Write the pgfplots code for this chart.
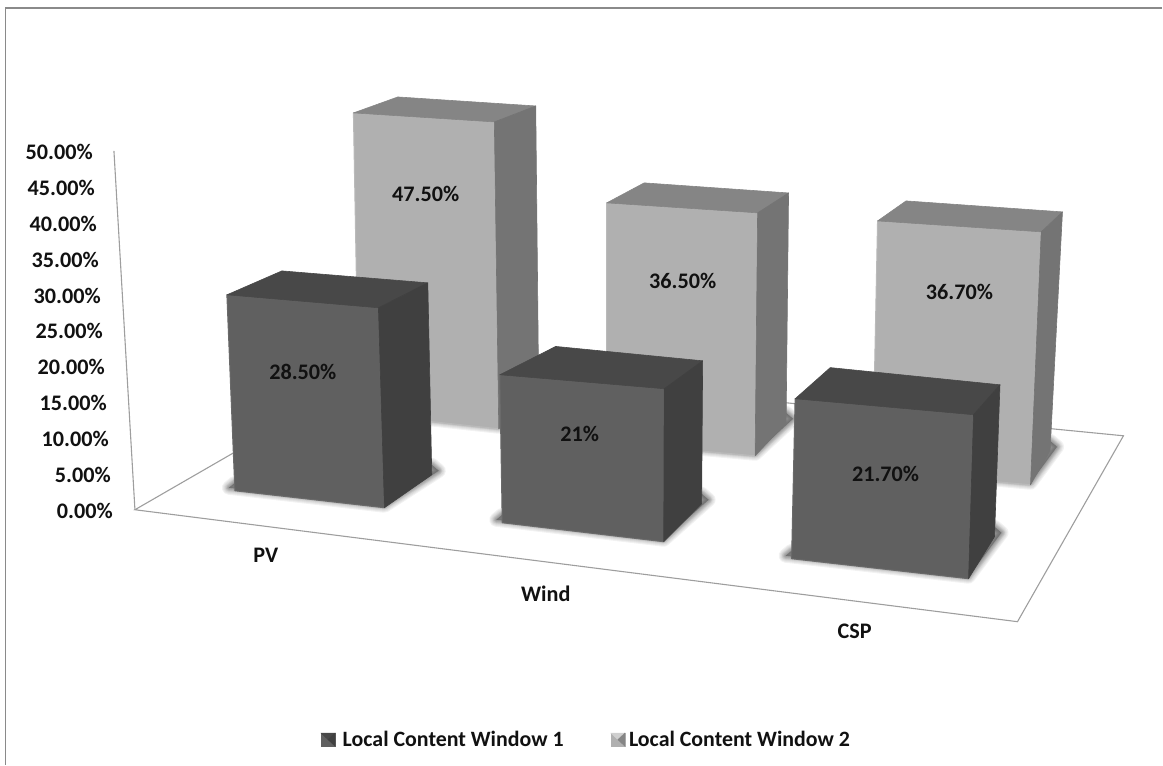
\documentclass[border=0pt]{standalone}
\usepackage{pgfplots}
\pgfplotsset{compat=1.18}
\usepackage{fontspec}
\setmainfont{Carlito}
\newcommand\chartfont{\bfseries\fontsize{22.2}{26}\selectfont}
\newcommand\keyfont{\bfseries\fontsize{21.9}{26}\selectfont}

\definecolor{darkfront}{HTML}{606060}
\definecolor{darkedge}{HTML}{6A6A6A}
\definecolor{darktop}{HTML}{484848}
\definecolor{darkside}{HTML}{404040}
\definecolor{lightfront}{HTML}{B0B0B0}
\definecolor{lightedge}{HTML}{BABABA}
\definecolor{lighttop}{HTML}{858585}
\definecolor{lightside}{HTML}{747474}
\definecolor{framegray}{HTML}{8A8A8A}
\definecolor{rulegray}{HTML}{9E9E9E}
\definecolor{inktext}{HTML}{111111}
\definecolor{shadowgray}{HTML}{505050}

% Screen position of one base corner of a bar, with its vertical and
% horizontal drift per percentage point (the view has perspective).
\newcommand\corner[5]{%
  \expandafter\edef\csname xb#1\endcsname{#2}%
  \expandafter\edef\csname yb#1\endcsname{#3}%
  \pgfmathsetmacro\tmpval{#3-\barvalue*#4}%
  \expandafter\let\csname yt#1\endcsname\tmpval
  \pgfmathsetmacro\tmpval{#2+\barvalue*#5}%
  \expandafter\let\csname xt#1\endcsname\tmpval
}

% Soft ground shadow: a core polygon with stacked translucent outlines
\newcommand\softshadow{%
  \addplot[forget plot, fill=shadowgray, fill opacity=0.55, draw=none]
    coordinates {(\xbA-6,\ybA-3)(\xbB,\ybB-2)(\xbC+7,\ybC-4)(\xbC,\ybC-10)(\xbA,\ybA-8)} -- cycle;
  \pgfplotsinvokeforeach{1,2,3,4,5,6,7,8,10,12,14}{%
    \addplot[forget plot, draw=shadowgray, draw opacity=0.075, line width=##1pt, line join=round]
      coordinates {(\xbA-6,\ybA-3)(\xbB,\ybB-2)(\xbC+7,\ybC-4)(\xbC,\ybC-10)(\xbA,\ybA-8)} -- cycle;
  }%
}

% Front, top and side faces of a bar
\newcommand\cuboid[4]{%
  \addplot[forget plot, fill=#1, draw=#4, line width=1pt, line join=round]
    coordinates {(\xtA,\ytA)(\xtB,\ytB)(\xbB,\ybB)(\xbA,\ybA)} -- cycle;
  \addplot[forget plot, fill=#2, draw=#2, line width=.6pt, line join=round]
    coordinates {(\xtD,\ytD)(\xtC,\ytC)(\xtB,\ytB)(\xtA,\ytA)} -- cycle;
  \addplot[forget plot, fill=#3, draw=#3, line width=.6pt, line join=round]
    coordinates {(\xtB,\ytB)(\xtC,\ytC)(\xbC,\ybC)(\xbB,\ybB)} -- cycle;
}

\begin{document}
\begin{tikzpicture}
\begin{axis}[
  scale only axis, width=1163pt, height=765pt,
  xmin=0, xmax=1163, ymin=0, ymax=765, y dir=reverse,
  clip=false, no markers,
  axis line style={draw=none}, tick style={draw=none},
  xtick=\empty,
  ytick pos=left,
  ytick={511,475.1,439.2,403.3,367.4,331.5,295.6,259.7,223.8,187.9,152},
  yticklabels={0.00\%,5.00\%,10.00\%,15.00\%,20.00\%,25.00\%,30.00\%,35.00\%,40.00\%,45.00\%,50.00\%},
  yticklabel style={anchor=east, inner sep=0pt, text=inktext, font=\chartfont,
    xshift={(113-2*\ticknum)*1pt}},
  legend style={at={(axis cs:321,740)}, anchor=west, draw=none, fill=none,
    inner sep=0pt, outer sep=0pt, font=\keyfont, text=inktext,
    /tikz/every even column/.append style={column sep=45pt}},
  legend columns=2, legend cell align=left,
]
% Frame of the chart area
\addplot[forget plot, draw=framegray, line width=1.2pt] coordinates {(5.5,765)(5.5,8)(1163,8)};
% Floor and value axis
\addplot[forget plot, draw=rulegray, line width=1.1pt] coordinates {(135,510)(1018,622)(1124,436)(388,364)} -- cycle;
\addplot[forget plot, draw=rulegray, line width=1.1pt] coordinates {(114,151)(135,510)};

% Local Content Window 2, rear row
\def\barvalue{47.5}
\corner{A}{359}{414}{6.337}{-0.114}\corner{B}{499}{429}{6.463}{-0.093}
\corner{C}{539}{396}{6.105}{-0.063}\corner{D}{402}{383}{6.021}{-0.084}
\softshadow\cuboid{lightfront}{lighttop}{lightside}{lightedge}

\def\barvalue{36.5}
\corner{A}{607}{443}{6.575}{0}\corner{B}{755.5}{456}{6.658}{0.068}
\corner{C}{786.5}{423}{6.30}{0.068}\corner{D}{644.5}{410}{6.22}{0}
\softshadow\cuboid{lightfront}{lighttop}{lightside}{lightedge}

\def\barvalue{36.7}
\corner{A}{873}{471}{6.81}{0.136}\corner{B}{1031}{485}{6.894}{0.292}
\corner{C}{1050.6}{451}{6.512}{0.338}\corner{D}{897}{437}{6.43}{0.259}
\softshadow\cuboid{lightfront}{lighttop}{lightside}{lightedge}

% Local Content Window 1, front row
\def\barvalue{28.5}
\corner{A}{235}{491}{6.877}{-0.281}\corner{B}{384.6}{508}{7.018}{-0.211}
\corner{C}{432}{475}{6.737}{-0.14}\corner{D}{287}{458}{6.56}{-0.175}
\softshadow\cuboid{darkfront}{darktop}{darkside}{darkedge}

\def\barvalue{21}
\corner{A}{502.5}{523}{7.048}{-0.119}\corner{B}{664}{542}{7.286}{0.024}
\corner{C}{702}{504}{6.81}{0.048}\corner{D}{558}{485}{6.59}{-0.095}
\softshadow\cuboid{darkfront}{darktop}{darkside}{darkedge}

\def\barvalue{21.7}
\corner{A}{792}{559}{7.373}{0.161}\corner{B}{969}{579}{7.558}{0.23}
\corner{C}{995}{537}{7.005}{0.253}\corner{D}{827}{516}{6.83}{0.17}
\softshadow\cuboid{darkfront}{darktop}{darkside}{darkedge}

% Value labels
\node[font=\chartfont, text=inktext] at (axis cs:303,372) {28.50\%};
\node[font=\chartfont, text=inktext] at (axis cs:426,194) {47.50\%};
\node[font=\chartfont, text=inktext] at (axis cs:580,434) {21\%};
\node[font=\chartfont, text=inktext] at (axis cs:683,281) {36.50\%};
\node[font=\chartfont, text=inktext] at (axis cs:886,474) {21.70\%};
\node[font=\chartfont, text=inktext] at (axis cs:960,292) {36.70\%};

% Category names
\node[font=\chartfont, text=inktext] at (axis cs:266,556) {PV};
\node[font=\chartfont, text=inktext] at (axis cs:546,594) {Wind};
\node[font=\chartfont, text=inktext] at (axis cs:855,632) {CSP};

% Legend keys
\addlegendimage{legend image code/.code={
  \fill[darkfront] (0pt,-6.5pt) rectangle (14pt,6.5pt);
  \fill[darktop] (0pt,6.5pt) -- (14pt,6.5pt) -- (7pt,0pt) -- cycle;
  \fill[darkside] (14pt,-6.5pt) -- (14pt,6.5pt) -- (7pt,0pt) -- cycle;
}}
\addlegendentry{\hspace{5.5pt}Local Content Window 1}
\addlegendimage{legend image code/.code={
  \fill[lightfront] (0pt,-6.5pt) rectangle (14pt,6.5pt);
  \fill[lightedge!70!white] (0pt,6.5pt) -- (14pt,6.5pt) -- (7pt,0pt) -- cycle;
  \fill[lighttop] (14pt,-6.5pt) -- (14pt,6.5pt) -- (7pt,0pt) -- cycle;
}}
\addlegendentry{\hspace{2pt}Local Content Window 2}
\end{axis}
\end{tikzpicture}
\end{document}
